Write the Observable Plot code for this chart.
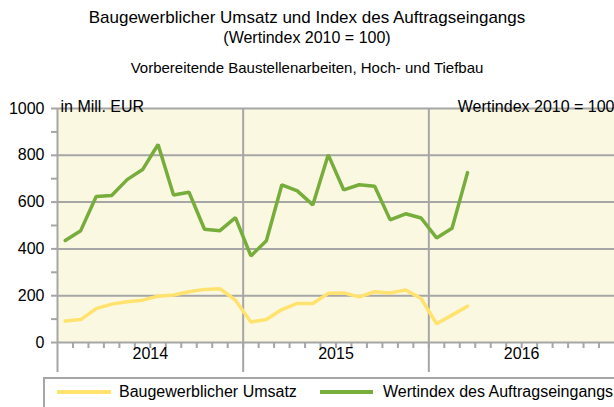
<!DOCTYPE html>
<html><head><meta charset="utf-8">
<script src="https://cdn.jsdelivr.net/npm/d3@7"></script>
<script src="https://cdn.jsdelivr.net/npm/@observablehq/plot@0.6"></script>
<style>
body{margin:0;background:#fff;font-family:"Liberation Sans",Arial,sans-serif;color:#000;}
#wrap{position:relative;width:614px;height:407px;overflow:hidden;}
#title{position:absolute;top:8px;left:0;width:614px;text-align:center;line-height:20px;}
#t1{font-size:17px;}
#t2{font-size:16px;}
#subtitle{position:absolute;top:59px;left:0;width:614px;text-align:center;font-size:15px;line-height:18px;}
#chart{position:absolute;top:85px;left:0;}
#legend{position:absolute;left:43px;top:377px;width:600px;height:40px;border:2px solid #A6A6A6;box-sizing:border-box;font-size:16px;}
.sw{position:absolute;top:11px;height:4px;}
.lt{position:absolute;top:3px;line-height:20px;white-space:nowrap;}
</style>
</head><body>
<div id="wrap">
  <div id="title"><span id="t1">Baugewerblicher Umsatz und Index des Auftragseingangs</span><br><span id="t2">(Wertindex 2010 = 100)</span></div>
  <div id="subtitle">Vorbereitende Baustellenarbeiten, Hoch- und Tiefbau</div>
  <div id="chart"></div>
  <div id="legend">
    <div class="sw" style="left:12px;width:54px;background:#FFE36E"></div>
    <div class="lt" style="left:74px">Baugewerblicher Umsatz</div>
    <div class="sw" style="left:275px;width:53px;background:#76AD3B"></div>
    <div class="lt" style="left:338px">Wertindex des Auftragseingangs</div>
  </div>
</div>
<script>
const months = ["2014-01","2014-02","2014-03","2014-04","2014-05","2014-06","2014-07","2014-08","2014-09","2014-10","2014-11","2014-12",
  "2015-01","2015-02","2015-03","2015-04","2015-05","2015-06","2015-07","2015-08","2015-09","2015-10","2015-11","2015-12",
  "2016-01","2016-02","2016-03"];
const years = ["2014","2015","2016"];
const umsatz = [92,98,145,164,174,181,198,203,217,227,230,181,
  88,98,141,167,167,210,212,195,217,212,224,188,
  80,117,155];
const wertindex = [436,478,624,628,696,739,846,630,642,484,478,534,
  370,435,674,648,588,802,652,674,668,524,550,532,
  447,488,726];
const yTicks = [0,200,400,600,800,1000];
const yMinor = [0,100,200,300,400,500,600,700,800,900,1000];
const monthBounds = d3.range(1, 36);

const data = months.map((m, i) => ({m, x: i + 0.5, u: umsatz[i], w: wertindex[i]}));
const gray = "#A6A6A6";

const chart = Plot.plot({
  width: 614, height: 290,
  marginTop: 23, marginBottom: 33, marginLeft: 57, marginRight: 0,
  x: {domain: [0, 36], axis: null},
  y: {domain: [0, 1000], axis: null},
  style: {fontFamily: "'Liberation Sans', Arial, sans-serif", fontSize: "16px", color: "#000", background: "transparent"},
  marks: [
    Plot.frame({fill: "#FBF8E2", stroke: null}),
    Plot.ruleY(yTicks, {stroke: gray, strokeWidth: 2}),
    Plot.ruleX([0, 12, 24], {stroke: gray, strokeWidth: 2, insetBottom: -30}),
    Plot.axisX({ticks: monthBounds, tickSize: 6, tickFormat: () => "", label: null, stroke: gray, strokeWidth: 2}),
    Plot.axisY({ticks: yMinor, tickSize: 6, tickPadding: 7, label: null, stroke: gray, strokeWidth: 2, fill: "#000", fontSize: 16,
      tickFormat: d => d % 200 === 0 ? String(d) : ""}),
    Plot.text(years, {x: (d, i) => i * 12 + 6, frameAnchor: "bottom", dy: 16, fill: "#000", fontSize: 16}),
    Plot.line(data, {x: "x", y: "u", stroke: "#FFE36E", strokeWidth: 3.5, strokeLinejoin: "miter"}),
    Plot.line(data, {x: "x", y: "w", stroke: "#76AD3B", strokeWidth: 3.5, strokeLinejoin: "miter"}),
    Plot.text(["in Mill. EUR"], {frameAnchor: "top-left", textAnchor: "start", dx: 3, dy: -8, fill: "#000", fontSize: 16}),
    Plot.text(["Wertindex 2010 = 100"], {frameAnchor: "top-right", textAnchor: "end", dx: 0, dy: -8, fill: "#000", fontSize: 16})
  ]
});
document.getElementById("chart").appendChild(chart);
</script>
</body></html>
